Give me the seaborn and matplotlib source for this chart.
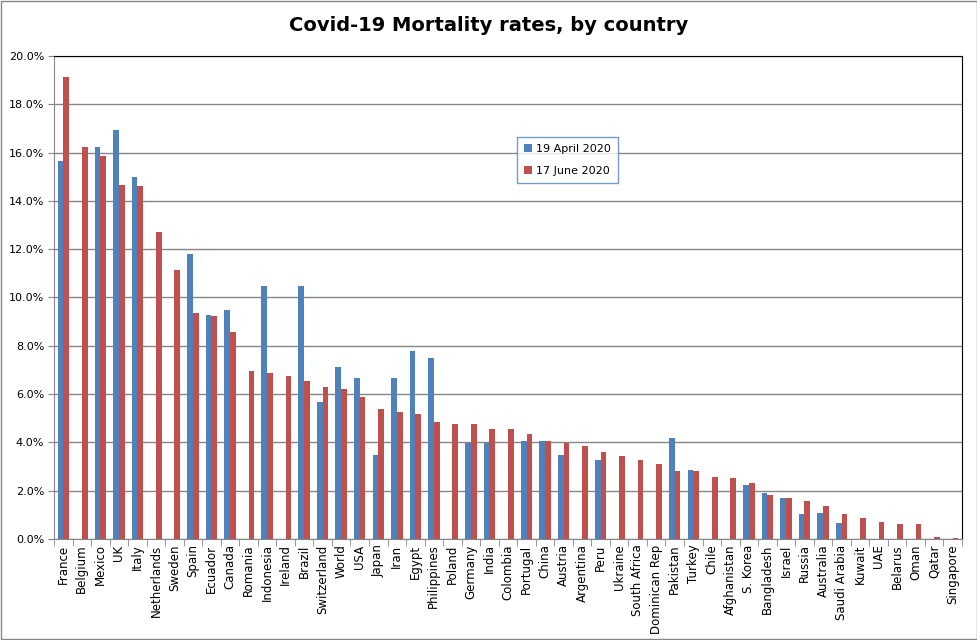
import numpy as np
import pandas as pd
import matplotlib
matplotlib.use("Agg")
import matplotlib.pyplot as plt
import seaborn as sns
from matplotlib.ticker import FuncFormatter, FixedLocator

# data (percent)
countries = ["France", "Belgium", "Mexico", "UK", "Italy", "Netherlands", "Sweden", "Spain",
             "Ecuador", "Canada", "Romania", "Indonesia", "Ireland", "Brazil", "Switzerland",
             "World", "USA", "Japan", "Iran", "Egypt", "Philippines", "Poland", "Germany",
             "India", "Colombia", "Portugal", "China", "Austria", "Argentina", "Peru", "Ukraine",
             "South Africa", "Dominican Rep", "Pakistan", "Turkey", "Chile", "Afghanistan",
             "S. Korea", "Bangladesh", "Israel", "Russia", "Australia", "Saudi Arabia", "Kuwait",
             "UAE", "Belarus", "Oman", "Qatar", "Singapore"]

april_19 = [15.67, np.nan, 16.25, 16.95, 14.97, np.nan, np.nan, 11.79,
            9.27, 9.48, np.nan, 10.47, np.nan, 10.47, 5.67,
            7.13, 6.67, 3.48, 6.67, 7.78, 7.49, np.nan, 3.98,
            3.98, np.nan, 4.07, 4.07, 3.48, np.nan, 3.28, np.nan,
            np.nan, np.nan, 4.18, 2.86, np.nan, np.nan,
            2.24, 1.89, 1.68, 1.05, 1.09, 0.67, np.nan,
            np.nan, np.nan, np.nan, np.nan, np.nan]

june_17 = [19.15, 16.25, 15.84, 14.64, 14.60, 12.70, 11.13, 9.35,
           9.23, 8.57, 6.96, 6.88, 6.75, 6.55, 6.30,
           6.21, 5.88, 5.38, 5.26, 5.18, 4.85, 4.77, 4.77,
           4.56, 4.56, 4.35, 4.07, 3.98, 3.85, 3.61, 3.44,
           3.28, 3.11, 2.82, 2.82, 2.57, 2.53,
           2.33, 1.80, 1.68, 1.55, 1.38, 1.01, 0.88,
           0.71, 0.63, 0.63, 0.08, 0.04]

series_names = ["19 April 2020", "17 June 2020"]

df = pd.DataFrame({
    "Country": countries * 2,
    "Series": [series_names[0]] * len(countries) + [series_names[1]] * len(countries),
    "Rate": april_19 + june_17,
})

sns.set_style("white")
plt.rcParams["font.family"] = ["DejaVu Sans"]
plt.rcParams["text.color"] = "black"
plt.rcParams["xtick.color"] = "black"
plt.rcParams["ytick.color"] = "black"

fig = plt.figure(figsize=(9.78, 6.40), dpi=100)
ax = fig.add_axes([0.0552, 0.158, 0.9284, 0.7545])

sns.barplot(data=df, x="Country", y="Rate", hue="Series", order=countries,
            hue_order=series_names, palette=["#4F81BD", "#C0504D"],
            width=0.62, saturation=1, linewidth=0, edgecolor="none", ax=ax, legend=True)

ax.set_ylim(0, 20)
ax.set_xlim(-0.5, len(countries) - 0.5)
ax.yaxis.set_major_locator(FixedLocator(np.arange(0, 20.1, 2)))
ax.yaxis.set_major_formatter(FuncFormatter(lambda v, p: f"{v:.1f}%"))
ax.yaxis.grid(True, color="#868686", linewidth=1)
ax.set_axisbelow(True)
ax.set_xlabel("")
ax.set_ylabel("")

ax.tick_params(axis="y", labelsize=8, length=4, pad=3, direction="out", left=True, color="#868686")
ax.tick_params(axis="x", labelsize=8.5, rotation=90, length=0, pad=4)
ax.set_xticks(np.arange(-0.5, len(countries), 1), minor=True)
ax.tick_params(axis="x", which="minor", length=5, bottom=True, color="#868686")

for side in ["left", "bottom"]:
    ax.spines[side].set_color("#868686")
ax.spines["top"].set_color("black")
ax.spines["right"].set_color("black")

leg = ax.legend(loc="upper left", bbox_to_anchor=(0.504, 0.843), frameon=True,
                fancybox=False, edgecolor="#4F81BD", fontsize=8,
                handlelength=0.7, handleheight=0.7, labelspacing=1.1,
                borderpad=0.6, handletextpad=0.4)
leg.get_frame().set_linewidth(1)

fig.suptitle("Covid-19 Mortality rates, by country", y=0.975, fontsize=14,
             fontweight="bold", color="black")

fig.patches.append(plt.Rectangle((0.001, 0.001), 0.998, 0.998, transform=fig.transFigure,
                                 fill=False, edgecolor="#868686", linewidth=1))

fig.savefig("out.png", dpi=100)
